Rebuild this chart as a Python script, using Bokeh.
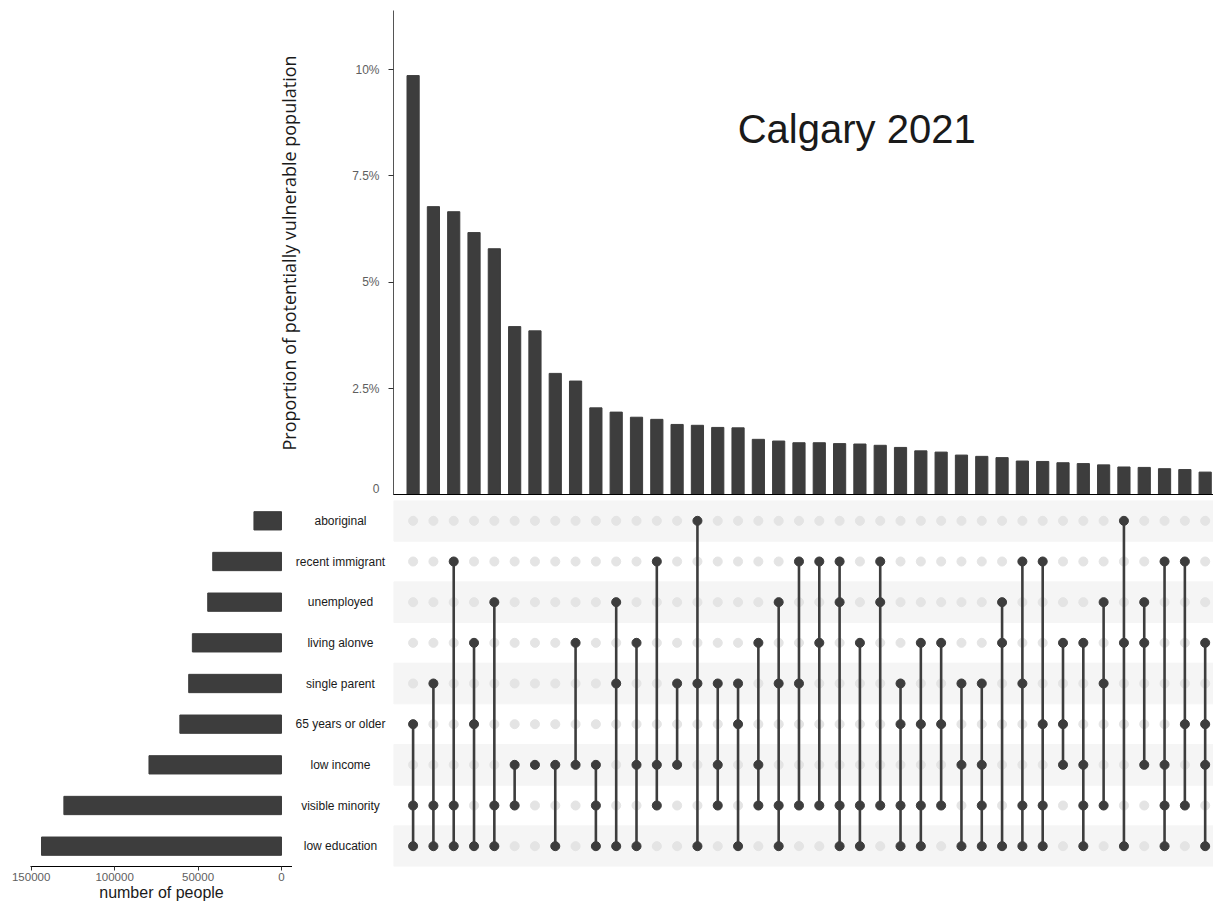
from bokeh.plotting import figure
from bokeh.layouts import column, row
from bokeh.models import Range1d, FixedTicker, Span
from bokeh.embed import file_html
from bokeh.resources import INLINE
from bokeh.core.properties import value

# ---- data -------------------------------------------------------------
categories = ["aboriginal", "recent immigrant", "unemployed", "living alonve",
              "single parent", "65 years or older", "low income",
              "visible minority", "low education"]

# total people per vulnerability category
set_sizes = [16500, 41200, 44200, 53400, 55600, 60900, 79400, 130400, 143800]

# intersections, ordered by share of the potentially vulnerable population
intersections = [
    ("65 years or older", "visible minority", "low education"),
    ("single parent", "visible minority", "low education"),
    ("recent immigrant", "visible minority", "low education"),
    ("living alonve", "65 years or older", "low education"),
    ("unemployed", "visible minority", "low education"),
    ("low income", "visible minority"),
    ("low income",),
    ("low income", "low education"),
    ("living alonve", "low income"),
    ("low income", "visible minority", "low education"),
    ("unemployed", "single parent", "low education"),
    ("living alonve", "low income", "low education"),
    ("recent immigrant", "low income", "visible minority"),
    ("single parent", "low income"),
    ("aboriginal", "single parent", "low education"),
    ("single parent", "low income", "visible minority"),
    ("single parent", "65 years or older", "low education"),
    ("living alonve", "low income", "visible minority"),
    ("unemployed", "single parent", "visible minority", "low education"),
    ("recent immigrant", "single parent", "visible minority"),
    ("recent immigrant", "living alonve", "visible minority"),
    ("recent immigrant", "unemployed", "visible minority", "low education"),
    ("living alonve", "visible minority", "low education"),
    ("recent immigrant", "unemployed", "visible minority"),
    ("single parent", "65 years or older", "visible minority", "low education"),
    ("living alonve", "65 years or older", "visible minority", "low education"),
    ("living alonve", "65 years or older", "visible minority"),
    ("single parent", "low income", "low education"),
    ("single parent", "low income", "visible minority", "low education"),
    ("unemployed", "living alonve", "low education"),
    ("recent immigrant", "single parent", "visible minority", "low education"),
    ("recent immigrant", "65 years or older", "visible minority", "low education"),
    ("living alonve", "65 years or older", "low income"),
    ("living alonve", "low income", "visible minority", "low education"),
    ("unemployed", "single parent", "visible minority"),
    ("aboriginal", "living alonve", "low education"),
    ("unemployed", "living alonve", "low income"),
    ("recent immigrant", "low income", "visible minority", "low education"),
    ("recent immigrant", "65 years or older", "visible minority"),
    ("living alonve", "65 years or older", "low income", "low education"),
]

# share of potentially vulnerable population (%)
proportions = [9.86, 6.78, 6.66, 6.17, 5.79, 3.96, 3.86, 2.86, 2.68, 2.05,
               1.95, 1.83, 1.78, 1.66, 1.64, 1.59, 1.58, 1.31, 1.27, 1.23,
               1.23, 1.21, 1.20, 1.17, 1.12, 1.04, 1.01, 0.94, 0.91, 0.88,
               0.80, 0.79, 0.76, 0.74, 0.71, 0.66, 0.65, 0.62, 0.60, 0.54]

pct_ticks = [0, 2.5, 5, 7.5, 10]
pct_labels = ["0", "2.5%", "5%", "7.5%", "10%"]
count_ticks = [0, 50000, 100000, 150000]
count_labels = ["0", "50000", "100000", "150000"]

# ---- styling ----------------------------------------------------------
DARK = "#3d3d3d"
FONT = "Liberation Sans"
n_cat = len(categories)
n_int = len(intersections)
cat_y = {c: n_cat - 1 - i for i, c in enumerate(categories)}
cols = list(range(n_int))

x_shared = Range1d(-0.965, n_int - 0.59)
y_rows = Range1d(-0.5, n_cat - 0.5)


def clean(p):
    p.outline_line_color = None
    p.background_fill_color = "white"
    p.border_fill_color = "white"


# ---- intersection bars ------------------------------------------------
p_top = figure(width=1213, height=495, x_range=x_shared,
               y_range=Range1d(-0.01, 11.39),
               output_backend="svg", toolbar_location=None,
               min_border_left=393, min_border_right=0,
               min_border_top=10, min_border_bottom=0)
clean(p_top)
p_top.xaxis.visible = False
p_top.grid.visible = False
p_top.vbar(x=cols, top=proportions, width=0.6, color=DARK)
p_top.add_layout(Span(location=0, dimension="width",
                      line_color="black", line_width=2))

ya = p_top.yaxis[0]
ya.ticker = FixedTicker(ticks=pct_ticks)
ya.major_label_overrides = {t: l for t, l in zip(pct_ticks, pct_labels)}
ya.minor_tick_line_color = None
ya.major_tick_out = 5
ya.major_tick_in = 0
ya.major_tick_line_color = "#333333"
ya.axis_line_color = "#555555"
ya.major_label_text_color = "#5e5e5e"
ya.major_label_text_font = FONT
ya.major_label_text_font_size = "12px"
ya.major_label_standoff = 9
ya.axis_label = "Proportion of potentially vulnerable population"
ya.axis_label_text_font = "Open Sans"
ya.axis_label_text_font_style = "normal"
ya.axis_label_text_font_size = "18px"
ya.axis_label_text_color = "#1a1a1a"
ya.axis_label_standoff = 48

p_top.text(x=[21.84], y=[8.61], text=["Calgary 2021"],
           text_align="center", text_baseline="middle",
           text_font=value(FONT), text_font_size="40px",
           text_color="#1a1a1a")

# ---- set size bars ----------------------------------------------------
p_left = figure(width=292, height=409, x_range=Range1d(150400, -6600),
                y_range=y_rows, y_axis_type=None,
                output_backend="svg", toolbar_location=None,
                min_border_left=30, min_border_right=0,
                min_border_top=5, min_border_bottom=38)
clean(p_left)
p_left.grid.visible = False
p_left.hbar(y=[cat_y[c] for c in categories], right=set_sizes, left=0,
            height=0.45, color=DARK)
xa = p_left.xaxis[0]
xa.ticker = FixedTicker(ticks=count_ticks)
xa.major_label_overrides = {t: l for t, l in zip(count_ticks, count_labels)}
xa.minor_tick_line_color = None
xa.major_tick_out = 4
xa.major_tick_in = 0
xa.axis_line_color = "black"
xa.major_tick_line_color = "#333333"
xa.major_label_text_color = "#5e5e5e"
xa.major_label_text_font = FONT
xa.major_label_text_font_size = "11.5px"
xa.major_label_standoff = 2
xa.axis_label = "number of people"
xa.axis_label_text_font = FONT
xa.axis_label_text_font_style = "normal"
xa.axis_label_text_font_size = "16px"
xa.axis_label_text_color = "#1a1a1a"
xa.axis_label_standoff = 0

# ---- category names ---------------------------------------------------
p_lab = figure(width=101, height=409, x_range=Range1d(0, 1), y_range=y_rows,
               x_axis_type=None, y_axis_type=None,
               output_backend="svg", toolbar_location=None,
               min_border_left=0, min_border_right=0,
               min_border_top=5, min_border_bottom=38)
clean(p_lab)
p_lab.text(x=[0.475] * n_cat, y=[cat_y[c] for c in categories], text=categories,
           text_align="center", text_baseline="middle",
           text_font=value(FONT), text_font_size="12px",
           text_color="#1a1a1a")

# ---- membership matrix ------------------------------------------------
p_mat = figure(width=820, height=409, x_range=x_shared, y_range=y_rows,
               x_axis_type=None, y_axis_type=None,
               output_backend="svg", toolbar_location=None,
               min_border_left=0, min_border_right=0,
               min_border_top=5, min_border_bottom=38)
clean(p_mat)

stripe_rows = [cat_y[c] for i, c in enumerate(categories) if i % 2 == 0]
p_mat.hbar(y=stripe_rows, height=1, left=x_shared.start, right=x_shared.end,
           color="#f5f5f5")

gx, gy = [], []
for j in cols:
    for c in categories:
        gx.append(j)
        gy.append(cat_y[c])
p_mat.scatter(x=gx, y=gy, size=9, color="#e4e4e4")

sx, sy0, sy1 = [], [], []
ax, ay = [], []
for j, members in enumerate(intersections):
    ys = [cat_y[c] for c in members]
    for yv in ys:
        ax.append(j)
        ay.append(yv)
    if len(ys) > 1:
        sx.append(j)
        sy0.append(min(ys))
        sy1.append(max(ys))
p_mat.segment(x0=sx, y0=sy0, x1=sx, y1=sy1, line_color=DARK, line_width=2.6)
p_mat.scatter(x=ax, y=ay, size=9, color=DARK)

layout = column(p_top, row(p_left, p_lab, p_mat))
open("out.html", "w").write(file_html(layout, INLINE))
